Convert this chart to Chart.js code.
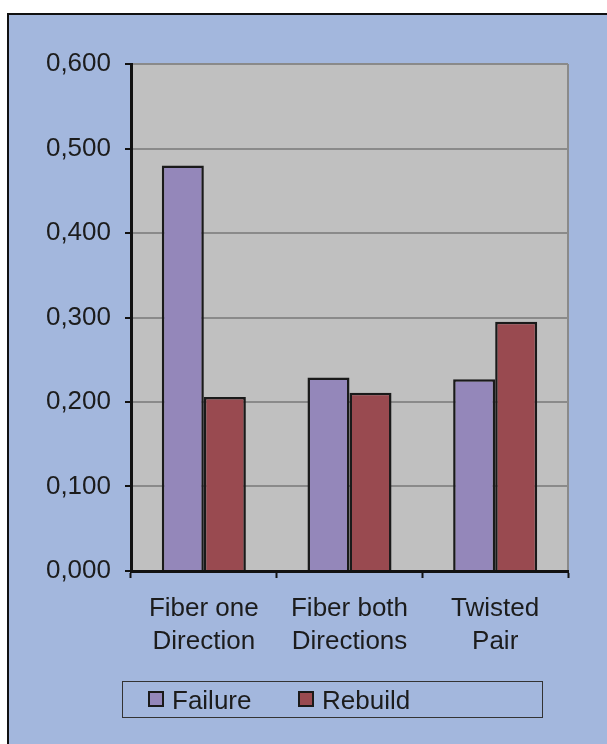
<!DOCTYPE html>
<html>
<head>
<meta charset="utf-8">
<script src="https://cdn.jsdelivr.net/npm/chart.js@4/dist/chart.umd.min.js"></script>
<style>
  html, body { margin: 0; padding: 0; background: #ffffff; overflow: hidden; }
  #frame {
    position: absolute; left: 7px; top: 13px; width: 640px; height: 760px;
    background: #a3b7dd; border-left: 2px solid #111; border-top: 2px solid #111;
  }
  #wrap { position: absolute; left: 0; top: 0; width: 607px; height: 744px; }
  #legend {
    position: absolute; left: 122px; top: 681px; width: 419px; height: 35px;
    border: 1px solid #333; font-family: "Liberation Sans", Arial, sans-serif;
    font-size: 26px; color: #1c1c1c; box-sizing: content-box;
  }
  #legend .item { position: absolute; top: 0; height: 35px; line-height: 36px; white-space: nowrap; }
  #legend .swatch {
    position: absolute; top: 9px; left: 0; width: 12px; height: 12px; border: 2px solid #1a1a1a;
  }
  #legend .label { position: absolute; left: 24px; top: 0; }
</style>
</head>
<body>
<div id="frame"></div>
<div id="wrap"><canvas id="myChart" width="607" height="744"></canvas></div>
<div id="legend"></div>
<script>
// 데이터
const categories = [["Fiber one", "Direction"], ["Fiber both", "Directions"], ["Twisted", "Pair"]];
const failureValues = [0.480, 0.229, 0.227];
const rebuildValues = [0.206, 0.211, 0.295];
const yTicks = [0, 0.1, 0.2, 0.3, 0.4, 0.5, 0.6];

const seriesNames = ["Failure", "Rebuild"];
const seriesColors = ["#9487ba", "#994a50"];

// 플롯 영역 배경과 오른쪽 테두리
const plotBackground = {
  id: "plotBackground",
  beforeDraw(chart) {
    const { ctx, chartArea: a } = chart;
    ctx.save();
    ctx.fillStyle = "#c0c0c0";
    ctx.fillRect(a.left, a.top, a.right - a.left, a.bottom - a.top);
    ctx.strokeStyle = "#8a8a8a";
    ctx.lineWidth = 2;
    ctx.beginPath();
    ctx.moveTo(a.right, a.top);
    ctx.lineTo(a.right, a.bottom);
    ctx.stroke();
    ctx.restore();
  },
};

const ctx = document.getElementById("myChart").getContext("2d");

const myChart = new Chart(ctx, {
  type: "bar",
  data: {
    labels: categories,
    datasets: [
      {
        label: seriesNames[0],
        data: failureValues,
        backgroundColor: seriesColors[0],
        borderColor: "#1a1a1a",
        borderWidth: 2.5,
      },
      {
        label: seriesNames[1],
        data: rebuildValues,
        backgroundColor: seriesColors[1],
        borderColor: "#1a1a1a",
        borderWidth: 2.5,
      },
    ],
  },
  options: {
    responsive: false,
    animation: false,
    devicePixelRatio: 1,
    layout: { padding: { left: 0, top: 64, right: 39, bottom: 0 } },
    datasets: { bar: { categoryPercentage: 0.577, barPercentage: 1 } },
    plugins: {
      legend: { display: false },
      tooltip: { enabled: false },
    },
    scales: {
      x: {
        afterFit: (scale) => { scale.height = 744 - 571; },
        grid: {
          offset: true,
          drawOnChartArea: false,
          tickLength: 7,
          tickColor: "#111",
          tickWidth: 2,
        },
        border: { color: "#111", width: 3 },
        ticks: {
          color: "#1c1c1c",
          padding: 15,
          maxRotation: 0,
          autoSkip: false,
          font: { family: "'Liberation Sans', Arial, sans-serif", size: 26, lineHeight: 1.24 },
        },
      },
      y: {
        min: 0,
        max: 0.6,
        afterFit: (scale) => { scale.width = 131; },
        afterBuildTicks: (scale) => { scale.ticks = yTicks.map((v) => ({ value: v })); },
        grid: {
          color: "#8a8a8a",
          lineWidth: 2,
          tickLength: 6,
          tickColor: "#111",
          tickWidth: 2,
        },
        border: { color: "#111", width: 3 },
        ticks: {
          color: "#1c1c1c",
          padding: 14,
          font: { family: "'Liberation Sans', Arial, sans-serif", size: 26 },
          callback: (v) => Number(v).toFixed(3).replace(".", ","),
        },
      },
    },
  },
  plugins: [plotBackground],
});

// 범례 (HTML)
const legend = document.getElementById("legend");
const itemLeft = [25, 175];
seriesNames.forEach((name, i) => {
  const item = document.createElement("div");
  item.className = "item";
  item.style.left = itemLeft[i] + "px";
  const sw = document.createElement("span");
  sw.className = "swatch";
  sw.style.background = seriesColors[i];
  const lb = document.createElement("span");
  lb.className = "label";
  lb.textContent = name;
  item.appendChild(sw);
  item.appendChild(lb);
  legend.appendChild(item);
});
</script>
</body>
</html>
